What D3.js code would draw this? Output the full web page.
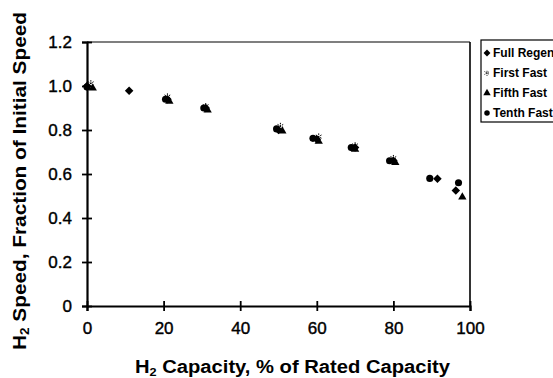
<!DOCTYPE html>
<html><head><meta charset="utf-8">
<script src="https://cdn.jsdelivr.net/npm/d3@7"></script>
<style>body{margin:0;background:#fff}svg{display:block}text{font-family:"Liberation Sans",Arial,sans-serif;fill:#000}</style>
</head><body><svg id="c" width="553" height="378"></svg>
<script>
const xTicks = [0, 20, 40, 60, 80, 100];
const yTicks = [0, 0.2, 0.4, 0.6, 0.8, 1.0, 1.2];
const seriesNames = ["Full Regen", "First Fast", "Fifth Fast", "Tenth Fast"];
const fullX = [0, 11, 21, 31, 50, 60, 70, 80, 91.5, 96.3];
const fullY = [1.0, 0.978, 0.94, 0.9, 0.80, 0.758, 0.72, 0.66, 0.578, 0.525];
const firstX = [1, 21, 31, 50.5, 60.5, 70, 80];
const firstY = [1.012, 0.952, 0.908, 0.818, 0.77, 0.73, 0.672];
const fifthX = [1.5, 21.5, 31.5, 51, 60.5, 70, 80.5, 98];
const fifthY = [0.99, 0.93, 0.89, 0.795, 0.748, 0.712, 0.652, 0.495];
const tenthX = [0, 20.5, 30.5, 49.5, 59, 69, 79, 89.5, 97];
const tenthY = [0.995, 0.94, 0.9, 0.805, 0.762, 0.72, 0.66, 0.58, 0.56];

const svg = d3.select("#c");
const x = d3.scaleLinear().domain([0, 100]).range([87, 470]);
const y = d3.scaleLinear().domain([0, 1.2]).range([306, 42]);

svg.append("line").attr("x1", x(100)).attr("x2", x(100)).attr("y1", y(1.2)).attr("y2", y(0))
  .attr("stroke", "#000").attr("stroke-width", 1.6);
svg.append("line").attr("x1", x(0)).attr("x2", x(100)).attr("y1", y(1.2)).attr("y2", y(1.2))
  .attr("stroke", "#000").attr("stroke-width", 1.2);

const xAxis = svg.append("g").attr("transform", `translate(0,${y(0)})`)
  .call(d3.axisBottom(x).tickValues(xTicks).tickFormat(d3.format("d")).tickSize(5).tickPadding(11));
const yAxis = svg.append("g").attr("transform", `translate(${x(0)},0)`)
  .call(d3.axisLeft(y).tickValues(yTicks).tickFormat(d => d === 0 ? "0" : d3.format(".1f")(d)).tickSize(5).tickPadding(10));
[xAxis, yAxis].forEach(g => {
  g.select(".domain").attr("stroke", "#000").attr("stroke-width", 2.2);
  g.selectAll(".tick line").attr("stroke", "#000").attr("stroke-width", 1.8);
  g.selectAll("text").style("font-size", "17px").attr("fill", "#000")
    .attr("stroke", "#000").attr("stroke-width", 0.4);
});
xAxis.selectAll(".tick line").attr("y1", -5).attr("y2", 5);
yAxis.selectAll(".tick line").attr("x1", -5).attr("x2", 5);

const diamond = {
  draw(ctx, size) {
    const r = Math.sqrt(size / 2);
    ctx.moveTo(0, -r); ctx.lineTo(r, 0); ctx.lineTo(0, r); ctx.lineTo(-r, 0); ctx.closePath();
  }
};
const sym = {
  "Full Regen": diamond,
  "First Fast": d3.symbolAsterisk,
  "Fifth Fast": d3.symbolTriangle,
  "Tenth Fast": d3.symbolCircle
};
const sizes = {"Full Regen": 36, "First Fast": 30, "Fifth Fast": 30, "Tenth Fast": 40};
const data = [
  [seriesNames[0], fullX, fullY],
  [seriesNames[1], firstX, firstY],
  [seriesNames[2], fifthX, fifthY],
  [seriesNames[3], tenthX, tenthY]
];
data.forEach(([name, xs, ys]) => {
  const g = svg.append("g");
  g.selectAll("path").data(xs.map((v, i) => [v, ys[i]])).join("path")
    .attr("d", d3.symbol().type(sym[name]).size(sizes[name])())
    .attr("transform", d => `translate(${x(d[0])},${y(d[1])})`)
    .attr("fill", "#000")
    .attr("stroke", name === "First Fast" ? "#000" : "none")
    .attr("stroke-width", 1)
    .attr("stroke-dasharray", name === "First Fast" ? "1.5,1" : null);
});

const lg = svg.append("g");
lg.append("rect").attr("x", 481).attr("y", 40).attr("width", 90).attr("height", 82)
  .attr("fill", "#fff").attr("stroke", "#000").attr("stroke-width", 1.2);
seriesNames.forEach((n, i) => {
  const yy = 53 + i * 20;
  lg.append("path").attr("d", d3.symbol().type(sym[n]).size(24)())
    .attr("transform", `translate(487,${yy})`).attr("fill", "#000")
    .attr("stroke", n === "First Fast" ? "#000" : "none").attr("stroke-width", 0.8)
    .attr("stroke-dasharray", n === "First Fast" ? "1.2,0.8" : null);
  lg.append("text").attr("x", 493).attr("y", yy + 4).style("font-size", "12px")
    .style("font-weight", "bold").text(n);
});

const xt = svg.append("text").attr("x", 135).attr("y", 373)
  .attr("textLength", 315).attr("lengthAdjust", "spacingAndGlyphs")
  .style("font-size", "17.5px").style("font-weight", "bold");
xt.append("tspan").text("H");
xt.append("tspan").attr("dy", 3).style("font-size", "11px").text("2");
xt.append("tspan").attr("dy", -3).text(" Capacity, % of Rated Capacity");

const yt = svg.append("text").attr("transform", "translate(26,350) rotate(-90)")
  .attr("textLength", 338).attr("lengthAdjust", "spacingAndGlyphs")
  .style("font-size", "18.5px").style("font-weight", "bold");
yt.append("tspan").text("H");
yt.append("tspan").attr("dy", 3).style("font-size", "12px").text("2");
yt.append("tspan").attr("dy", -3).text(" Speed, Fraction of Initial Speed");
</script></body></html>
